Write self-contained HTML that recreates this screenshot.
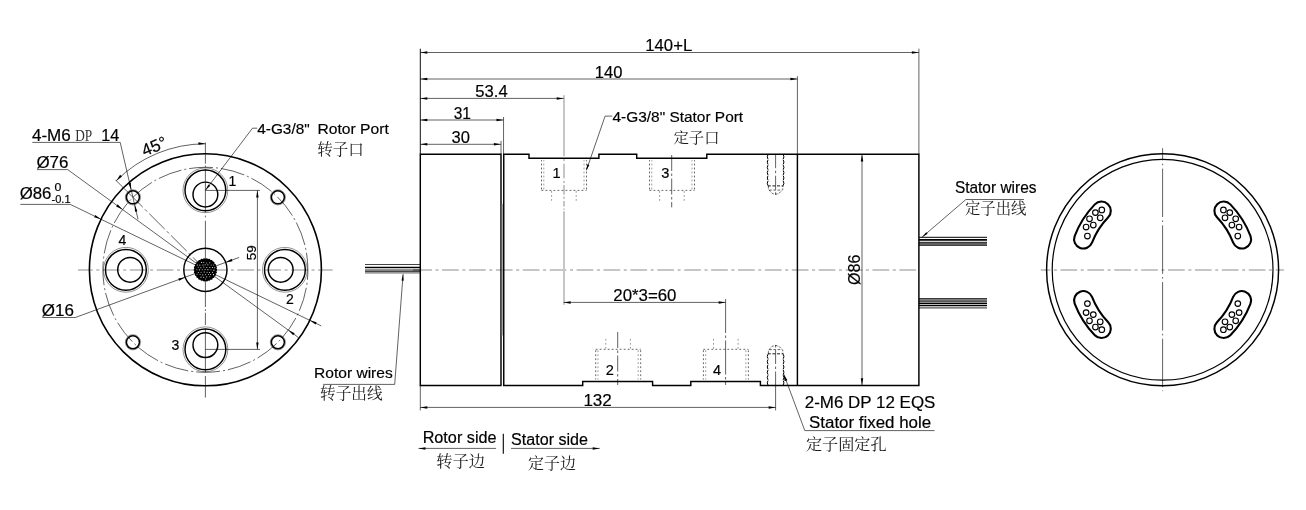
<!DOCTYPE html>
<html lang="en"><head><meta charset="utf-8"><title>Rotary union drawing</title>
<style>
html,body{margin:0;padding:0;background:#fff}
svg{display:block;will-change:transform}
.k{fill:none;stroke:#000;stroke-width:1.45}
.t{fill:none;stroke:#000;stroke-width:.62}
.g{fill:none;stroke:#000;stroke-width:.62}
.gx{fill:none;stroke:#c6c6c6;stroke-width:2}
.u{fill:none;stroke:#000;stroke-width:.62}
.th{fill:none;stroke:#000;stroke-width:.42}
.cl{fill:none;stroke:#c6c6c6;stroke-width:2;stroke-dasharray:16.7 3.6 3 3.6}
.cd{fill:none;stroke:#000;stroke-width:.62;stroke-dasharray:30 3 3 3}
.cd2{fill:none;stroke:#000;stroke-width:.62;stroke-dasharray:24 3 2 3;stroke-dashoffset:13.9}
.h{fill:none;stroke:#222;stroke-width:.7;stroke-dasharray:1.8 2.2}
.hl{fill:none;stroke:#555;stroke-width:.6;stroke-dasharray:1.8 2.2}
.hd{fill:none;stroke:#000;stroke-width:.62;stroke-dasharray:4.3 .8}
.tx{font-family:"Liberation Sans",sans-serif;fill:#000;stroke:#000;stroke-width:.18}
.cj{font-family:"Liberation Serif","Noto Serif CJK SC",serif;fill:#1a1a1a}
</style></head>
<body>
<svg width="1306" height="510" viewBox="0 0 1306 510" font-family="Liberation Sans, sans-serif">
<rect width="1306" height="510" fill="#fff"/>
<!-- left flange view -->
<line class="cl" x1="78" y1="270" x2="332.7" y2="270" style="stroke-dashoffset:2"/>
<line class="t" x1="205.4" y1="142.5" x2="205.4" y2="163.7"/>
<line class="t" x1="205.4" y1="165.6" x2="205.4" y2="167.2"/>
<line class="t" x1="205.4" y1="168.8" x2="205.4" y2="212.5"/>
<line class="t" x1="205.4" y1="215.6" x2="205.4" y2="217.4"/>
<line class="t" x1="205.4" y1="220.8" x2="205.4" y2="307"/>
<line class="t" x1="205.4" y1="309.3" x2="205.4" y2="311"/>
<line class="t" x1="205.4" y1="312.8" x2="205.4" y2="325"/>
<line class="t" x1="205.4" y1="328.7" x2="205.4" y2="372.4"/>
<line class="t" x1="205.4" y1="376" x2="205.4" y2="397.5"/>
<circle class="k" cx="205.4" cy="269.8" r="116" style="stroke-width:1.6"/>
<circle class="cd2" cx="205.4" cy="269.8" r="102.5"/>
<circle class="th" cx="205.4" cy="190.3" r="22.4"/>
<circle class="k" cx="205.4" cy="190.3" r="20.4"/>
<circle class="k" cx="205.4" cy="194.5" r="12.4"/>
<circle class="th" cx="284.9" cy="269.8" r="22.4"/>
<circle class="k" cx="284.9" cy="269.8" r="20.4"/>
<circle class="k" cx="280.7" cy="269.8" r="12.4"/>
<circle class="th" cx="205.4" cy="349.3" r="22.4"/>
<circle class="k" cx="205.4" cy="349.3" r="20.4"/>
<circle class="k" cx="205.4" cy="345.1" r="12.4"/>
<circle class="th" cx="125.9" cy="269.8" r="22.4"/>
<circle class="k" cx="125.9" cy="269.8" r="20.4"/>
<circle class="k" cx="130.1" cy="269.8" r="12.4"/>
<circle class="th" cx="277.88" cy="197.32" r="7.6"/>
<circle class="k" cx="277.88" cy="197.32" r="6.5" style="stroke-width:1.5"/>
<circle class="th" cx="132.92" cy="197.32" r="7.6"/>
<circle class="k" cx="132.92" cy="197.32" r="6.5" style="stroke-width:1.5"/>
<circle class="th" cx="132.92" cy="342.28" r="7.6"/>
<circle class="k" cx="132.92" cy="342.28" r="6.5" style="stroke-width:1.5"/>
<circle class="th" cx="277.88" cy="342.28" r="7.6"/>
<circle class="k" cx="277.88" cy="342.28" r="6.5" style="stroke-width:1.5"/>
<circle class="k" cx="205.4" cy="269.8" r="21.6"/>
<line class="u" x1="37" y1="169.6" x2="67.7" y2="169.6"/>
<line class="t" x1="67.7" y1="169.6" x2="298.55" y2="337.58"/>
<polygon fill="#000" points="122.52,209.49 116.12,206.38 117.6,204.36"/>
<polygon fill="#000" points="288.28,330.11 294.68,333.22 293.2,335.24"/>
<line class="u" x1="20.3" y1="204.4" x2="70.3" y2="204.4"/>
<line class="t" x1="70.3" y1="204.4" x2="321.24" y2="325.88"/>
<polygon fill="#000" points="100.99,219.26 94.15,217.33 95.23,215.08"/>
<polygon fill="#000" points="309.81,320.34 316.65,322.27 315.57,324.52"/>
<line class="t" x1="115.39" y1="179.79" x2="127.26" y2="191.66"/>
<line class="t" x1="127.26" y1="191.66" x2="199.74" y2="264.14" style="stroke-dasharray:22 3 3 3"/>
<line class="u" x1="42.3" y1="317.5" x2="75.3" y2="317.5"/>
<line class="t" x1="75.3" y1="317.5" x2="239.11" y2="257.44"/>
<polygon fill="#000" points="185.31,277.17 179.17,280.75 178.31,278.4"/>
<polygon fill="#000" points="225.49,262.43 231.63,258.85 232.49,261.2"/>
<circle cx="205.4" cy="269.8" r="10.9" fill="#000"/>
<circle cx="215.9" cy="269.8" r="1.25" fill="#000"/>
<circle cx="215.59" cy="272.31" r="1.25" fill="#000"/>
<circle cx="214.7" cy="274.68" r="1.25" fill="#000"/>
<circle cx="213.26" cy="276.76" r="1.25" fill="#000"/>
<circle cx="211.36" cy="278.44" r="1.25" fill="#000"/>
<circle cx="209.12" cy="279.62" r="1.25" fill="#000"/>
<circle cx="206.67" cy="280.22" r="1.25" fill="#000"/>
<circle cx="204.13" cy="280.22" r="1.25" fill="#000"/>
<circle cx="201.68" cy="279.62" r="1.25" fill="#000"/>
<circle cx="199.44" cy="278.44" r="1.25" fill="#000"/>
<circle cx="197.54" cy="276.76" r="1.25" fill="#000"/>
<circle cx="196.1" cy="274.68" r="1.25" fill="#000"/>
<circle cx="195.21" cy="272.31" r="1.25" fill="#000"/>
<circle cx="194.9" cy="269.8" r="1.25" fill="#000"/>
<circle cx="195.21" cy="267.29" r="1.25" fill="#000"/>
<circle cx="196.1" cy="264.92" r="1.25" fill="#000"/>
<circle cx="197.54" cy="262.84" r="1.25" fill="#000"/>
<circle cx="199.44" cy="261.16" r="1.25" fill="#000"/>
<circle cx="201.68" cy="259.98" r="1.25" fill="#000"/>
<circle cx="204.13" cy="259.38" r="1.25" fill="#000"/>
<circle cx="206.67" cy="259.38" r="1.25" fill="#000"/>
<circle cx="209.12" cy="259.98" r="1.25" fill="#000"/>
<circle cx="211.36" cy="261.16" r="1.25" fill="#000"/>
<circle cx="213.26" cy="262.84" r="1.25" fill="#000"/>
<circle cx="214.7" cy="264.92" r="1.25" fill="#000"/>
<circle cx="215.59" cy="267.29" r="1.25" fill="#000"/>
<circle cx="201.61" cy="262.39" r="0.55" fill="#fff" fill-opacity="0.9"/>
<circle cx="203.79" cy="262.54" r="0.55" fill="#fff" fill-opacity="0.9"/>
<circle cx="206.72" cy="262.98" r="0.55" fill="#fff" fill-opacity="0.75"/>
<circle cx="209.71" cy="262.71" r="0.55" fill="#fff" fill-opacity="0.9"/>
<circle cx="197.28" cy="265" r="0.55" fill="#fff" fill-opacity="1"/>
<circle cx="199.82" cy="265.16" r="0.55" fill="#fff" fill-opacity="0.75"/>
<circle cx="202.96" cy="264.94" r="0.55" fill="#fff" fill-opacity="1"/>
<circle cx="205.13" cy="264.73" r="0.55" fill="#fff" fill-opacity="0.9"/>
<circle cx="207.89" cy="264.86" r="0.55" fill="#fff" fill-opacity="0.9"/>
<circle cx="211.19" cy="265.03" r="0.55" fill="#fff" fill-opacity="0.75"/>
<circle cx="213.61" cy="265.07" r="0.55" fill="#fff" fill-opacity="0.75"/>
<circle cx="198.3" cy="267.23" r="0.55" fill="#fff" fill-opacity="0.75"/>
<circle cx="200.93" cy="267.65" r="0.55" fill="#fff" fill-opacity="0.75"/>
<circle cx="203.86" cy="267.07" r="0.55" fill="#fff" fill-opacity="0.9"/>
<circle cx="206.8" cy="267.5" r="0.55" fill="#fff" fill-opacity="0.9"/>
<circle cx="209.84" cy="267.55" r="0.55" fill="#fff" fill-opacity="1"/>
<circle cx="212.59" cy="267.53" r="0.55" fill="#fff" fill-opacity="1"/>
<circle cx="214.71" cy="267.7" r="0.55" fill="#fff" fill-opacity="1"/>
<circle cx="196.91" cy="269.69" r="0.55" fill="#fff" fill-opacity="0.75"/>
<circle cx="199.62" cy="269.85" r="0.55" fill="#fff" fill-opacity="1"/>
<circle cx="202.37" cy="269.7" r="0.55" fill="#fff" fill-opacity="0.75"/>
<circle cx="205.1" cy="269.6" r="0.55" fill="#fff" fill-opacity="0.9"/>
<circle cx="207.9" cy="269.63" r="0.55" fill="#fff" fill-opacity="0.9"/>
<circle cx="210.97" cy="269.78" r="0.55" fill="#fff" fill-opacity="0.75"/>
<circle cx="213.89" cy="270.15" r="0.55" fill="#fff" fill-opacity="0.9"/>
<circle cx="198.32" cy="272.5" r="0.55" fill="#fff" fill-opacity="0.9"/>
<circle cx="201.03" cy="272.21" r="0.55" fill="#fff" fill-opacity="0.75"/>
<circle cx="204.21" cy="272.04" r="0.55" fill="#fff" fill-opacity="1"/>
<circle cx="207.03" cy="272.32" r="0.55" fill="#fff" fill-opacity="0.9"/>
<circle cx="209.54" cy="272.47" r="0.55" fill="#fff" fill-opacity="0.9"/>
<circle cx="212.47" cy="272.2" r="0.55" fill="#fff" fill-opacity="1"/>
<circle cx="197.05" cy="274.23" r="0.55" fill="#fff" fill-opacity="0.75"/>
<circle cx="200.1" cy="274.54" r="0.55" fill="#fff" fill-opacity="0.75"/>
<circle cx="202.78" cy="274.88" r="0.55" fill="#fff" fill-opacity="0.9"/>
<circle cx="205.62" cy="274.72" r="0.55" fill="#fff" fill-opacity="0.9"/>
<circle cx="208.47" cy="274.47" r="0.55" fill="#fff" fill-opacity="0.75"/>
<circle cx="210.62" cy="274.54" r="0.55" fill="#fff" fill-opacity="0.9"/>
<circle cx="213.44" cy="274.65" r="0.55" fill="#fff" fill-opacity="1"/>
<circle cx="201.05" cy="277.15" r="0.55" fill="#fff" fill-opacity="0.9"/>
<circle cx="203.74" cy="277.26" r="0.55" fill="#fff" fill-opacity="1"/>
<circle cx="206.7" cy="276.88" r="0.55" fill="#fff" fill-opacity="0.75"/>
<circle cx="209.68" cy="276.71" r="0.55" fill="#fff" fill-opacity="0.75"/>
<circle cx="205.66" cy="279" r="0.55" fill="#fff" fill-opacity="0.75"/>
<line class="u" x1="32.3" y1="142.4" x2="120.2" y2="142.4"/>
<line class="t" x1="120.2" y1="142.4" x2="138.02" y2="219.34"/>
<polygon fill="#000" points="131.21,189.92 128.41,183.38 130.84,182.82"/>
<polygon fill="#000" points="134.64,204.73 137.43,211.26 135,211.83"/>
<path class="t" d="M116.3,180.7 A126.0,126.0 0 0 1 205.4,143.8"/>
<polygon fill="#000" points="205.4,143.8 198.37,144.84 198.44,142.34"/>
<polygon fill="#000" points="116.3,180.7 120.14,174.72 121.98,176.42"/>
<text class="tx" font-size="17" text-anchor="middle" transform="translate(156.45,151.64) rotate(-22.5)">45°</text>
<polyline class="t" points="257.2,128.2 252.5,128.2 205.4,190.3"/>
<polygon fill="#000" points="205.4,190.3 208.37,184.4 210.28,185.85"/>
<line class="t" x1="205.4" y1="190.4" x2="260" y2="190.4"/>
<line class="t" x1="205.4" y1="349.4" x2="260" y2="349.4"/>
<line class="t" x1="257.4" y1="190.4" x2="257.4" y2="349.4"/>
<polygon fill="#000" points="257.4,190.4 258.65,197.4 256.15,197.4"/>
<polygon fill="#000" points="257.4,349.4 256.15,342.4 258.65,342.4"/>
<text class="tx" font-size="13.5" text-anchor="middle" transform="translate(256.3,252.8) rotate(-90)">59</text>
<text class="tx" x="31.91" y="140.5" font-size="15.8" textLength="38.84" lengthAdjust="spacingAndGlyphs">4-M6</text>
<text x="75.2" y="140.5" font-size="16" textLength="17" lengthAdjust="spacingAndGlyphs" style="font-family:'Liberation Serif',serif;fill:#333">DP</text>
<text class="tx" x="101.37" y="140.5" font-size="15.8" textLength="18.01" lengthAdjust="spacingAndGlyphs">14</text>
<text class="tx" x="36.41" y="167.6" font-size="15.7" textLength="32.03" lengthAdjust="spacingAndGlyphs">Ø76</text>
<text class="tx" x="19.72" y="198.5" font-size="15.7" textLength="31.72" lengthAdjust="spacingAndGlyphs">Ø86</text>
<text class="tx" x="54.62" y="191.2" font-size="10.6" textLength="6.86" lengthAdjust="spacingAndGlyphs">0</text>
<text class="tx" x="51.51" y="202.9" font-size="10.8" textLength="19.03" lengthAdjust="spacingAndGlyphs">-0.1</text>
<text class="tx" x="41.71" y="315.7" font-size="16.3" textLength="32.14" lengthAdjust="spacingAndGlyphs">Ø16</text>
<text class="tx" x="257.25" y="133.6" font-size="14.7" textLength="52.4" lengthAdjust="spacingAndGlyphs">4-G3/8&quot;</text>
<text class="tx" x="317.52" y="133.6" font-size="14.7" textLength="71.3" lengthAdjust="spacingAndGlyphs">Rotor Port</text>
<text class="cj" x="317.3" y="154.6" font-size="15.5" textLength="46.6" lengthAdjust="spacingAndGlyphs">转子口</text>
<text class="tx" x="232.3" y="185.5" font-size="14" text-anchor="middle">1</text>
<text class="tx" x="290" y="304.2" font-size="14" text-anchor="middle">2</text>
<text class="tx" x="175.3" y="349.9" font-size="14" text-anchor="middle">3</text>
<text class="tx" x="122.3" y="244.9" font-size="14" text-anchor="middle">4</text>
<text class="tx" x="314.02" y="378.1" font-size="15.4" textLength="78.74" lengthAdjust="spacingAndGlyphs">Rotor wires</text>
<line class="u" x1="323.2" y1="384.4" x2="394.7" y2="384.4"/>
<line class="t" x1="394.7" y1="384.4" x2="403.1" y2="274.1"/>
<polygon fill="#000" points="403.1,274.1 403.7,280.66 401.51,280.5"/>
<text class="cj" x="320" y="399" font-size="15.6" textLength="62.6" lengthAdjust="spacingAndGlyphs">转子出线</text>
<!-- middle side view -->
<line class="cl" x1="415.2" y1="270" x2="918.9" y2="270"/>
<line class="gx" x1="564" y1="95.2" x2="564" y2="156.3"/>
<line class="gx" x1="564" y1="159" x2="564" y2="161"/>
<line class="gx" x1="564" y1="163.8" x2="564" y2="178.2"/>
<line class="gx" x1="564" y1="181" x2="564" y2="183"/>
<line class="gx" x1="564" y1="185.1" x2="564" y2="194.7"/>
<line class="gx" x1="564" y1="196.8" x2="564" y2="198.8"/>
<line class="gx" x1="564" y1="200.9" x2="564" y2="206.4"/>
<line class="gx" x1="564" y1="208.4" x2="564" y2="209.8"/>
<line class="gx" x1="564" y1="211.2" x2="564" y2="304.8"/>
<rect x="365" y="268.0" width="55.3" height="1.1" fill="#c8c8c8"/>
<rect x="365" y="269.0" width="55.3" height="2.0" fill="#999"/>
<rect x="413" y="269.0" width="7.3" height="2.0" fill="#6a6a6a"/>
<rect x="365" y="271.7" width="55.3" height="2.0" fill="#999"/>
<line x1="365" y1="264.5" x2="420.3" y2="264.5" stroke="#444" stroke-width="1.0"/>
<line x1="365" y1="267.4" x2="420.3" y2="267.4" stroke="#000" stroke-width="1.3"/>
<line x1="365" y1="271.3" x2="420.3" y2="271.3" stroke="#222" stroke-width="1.0"/>
<rect x="918.9" y="241.7" width="68.1" height="4.1" fill="#a2a2a2"/>
<line x1="918.9" y1="237.3" x2="987" y2="237.3" stroke="#000" stroke-width="1.0"/>
<line x1="918.9" y1="239.9" x2="987" y2="239.9" stroke="#000" stroke-width="1.6"/>
<line x1="918.9" y1="242.4" x2="987" y2="242.4" stroke="#000" stroke-width="0.7"/>
<line x1="918.9" y1="243.9" x2="987" y2="243.9" stroke="#000" stroke-width="0.7"/>
<line x1="918.9" y1="245.3" x2="987" y2="245.3" stroke="#000" stroke-width="0.8"/>
<rect x="918.9" y="298.0" width="68.1" height="4.4" fill="#a2a2a2"/>
<line x1="918.9" y1="298.5" x2="987" y2="298.5" stroke="#222" stroke-width="0.8"/>
<line x1="918.9" y1="300.1" x2="987" y2="300.1" stroke="#222" stroke-width="0.7"/>
<line x1="918.9" y1="301.7" x2="987" y2="301.7" stroke="#222" stroke-width="0.7"/>
<line x1="918.9" y1="303.3" x2="987" y2="303.3" stroke="#000" stroke-width="1.3"/>
<line x1="918.9" y1="305.5" x2="987" y2="305.5" stroke="#000" stroke-width="1.6"/>
<line x1="918.9" y1="307.9" x2="987" y2="307.9" stroke="#555" stroke-width="1.2"/>
<path class="k" d="M420.3,154.2 H501.0 V385.5 H420.3 Z"/>
<line class="k" x1="502.1" y1="203.7" x2="502.1" y2="335.4" style="stroke-width:1.1;stroke:#7a7a7a"/>
<path class="k" d="M503.75,385.5 V154.2 H529 V158.2 H598.9 V154.2 H636.7 V158.2 H706.8 V154.2 H918.9 V385.5 H760.4 V381.5 H690.8 V385.5 H652.6 V381.5 H582.7 V385.5 Z"/>
<line class="k" x1="797.4" y1="154.2" x2="797.4" y2="385.5"/>
<line class="h" x1="541.5" y1="189.4" x2="541.5" y2="160.2"/>
<line class="hl" x1="543.8" y1="189.4" x2="543.8" y2="160.2"/>
<line class="hl" x1="584" y1="189.4" x2="584" y2="160.2"/>
<line class="h" x1="586.5" y1="189.4" x2="586.5" y2="160.2"/>
<line class="h" x1="541.5" y1="190.4" x2="586.5" y2="190.4"/>
<line class="hl" x1="551.6" y1="191" x2="551.6" y2="201.2"/>
<line class="hl" x1="576.2" y1="191" x2="576.2" y2="201.2"/>
<line class="h" x1="649.5" y1="189.4" x2="649.5" y2="160.2"/>
<line class="hl" x1="651.8" y1="189.4" x2="651.8" y2="160.2"/>
<line class="hl" x1="692" y1="189.4" x2="692" y2="160.2"/>
<line class="h" x1="694.5" y1="189.4" x2="694.5" y2="160.2"/>
<line class="h" x1="649.5" y1="190.4" x2="694.5" y2="190.4"/>
<line class="hl" x1="659.6" y1="191" x2="659.6" y2="201.2"/>
<line class="hl" x1="684.2" y1="191" x2="684.2" y2="201.2"/>
<line class="h" x1="595.7" y1="350.3" x2="595.7" y2="379.5"/>
<line class="hl" x1="598" y1="350.3" x2="598" y2="379.5"/>
<line class="hl" x1="638.2" y1="350.3" x2="638.2" y2="379.5"/>
<line class="h" x1="640.7" y1="350.3" x2="640.7" y2="379.5"/>
<line class="h" x1="595.7" y1="349.3" x2="640.7" y2="349.3"/>
<line class="hl" x1="605.8" y1="348.7" x2="605.8" y2="338.5"/>
<line class="hl" x1="630.4" y1="348.7" x2="630.4" y2="338.5"/>
<line class="h" x1="703.4" y1="350.3" x2="703.4" y2="379.5"/>
<line class="hl" x1="705.7" y1="350.3" x2="705.7" y2="379.5"/>
<line class="hl" x1="745.9" y1="350.3" x2="745.9" y2="379.5"/>
<line class="h" x1="748.4" y1="350.3" x2="748.4" y2="379.5"/>
<line class="h" x1="703.4" y1="349.3" x2="748.4" y2="349.3"/>
<line class="hl" x1="713.5" y1="348.7" x2="713.5" y2="338.5"/>
<line class="hl" x1="738.1" y1="348.7" x2="738.1" y2="338.5"/>
<line class="t" x1="671.7" y1="155" x2="671.7" y2="207.4" style="stroke-dasharray:16 2.5 2.5 2.5"/>
<line class="t" x1="617.7" y1="332" x2="617.7" y2="385" style="stroke-dasharray:16 2.5 2.5 2.5"/>
<line class="t" x1="725.6" y1="299" x2="725.6" y2="385" style="stroke-dasharray:34 2.5 2.5 2.5"/>
<path class="t" d="M768,154.55 Q766.5,156.84 768,159.13 M768,159.83 Q766.5,162.12 768,164.42 M768,165.12 Q766.5,167.41 768,169.7 M768,170.4 Q766.5,172.69 768,174.98 M768,175.68 Q766.5,177.97 768,180.27 M768,180.97 Q766.5,183.26 768,185.55" style="stroke-width:1"/>
<path class="t" d="M783.2,154.55 Q784.7,156.84 783.2,159.13 M783.2,159.83 Q784.7,162.12 783.2,164.42 M783.2,165.12 Q784.7,167.41 783.2,169.7 M783.2,170.4 Q784.7,172.69 783.2,174.98 M783.2,175.68 Q784.7,177.97 783.2,180.27 M783.2,180.97 Q784.7,183.26 783.2,185.55" style="stroke-width:1"/>
<line class="t" x1="767.8" y1="185.9" x2="783.4" y2="185.9" style="stroke-width:.9;stroke-dasharray:3 1.6"/>
<polyline class="t" points="768.4,185.9 768.4,189.5 772.4,193.5 775.6,194.3 778.8,193.5 782.8,189.5 782.8,185.9" style="stroke-dasharray:2.6 1.4"/>
<line class="t" x1="769.2" y1="190.1" x2="782" y2="190.1" style="stroke-dasharray:2.6 1.6"/>
<line class="t" x1="775.6" y1="154.2" x2="775.6" y2="195.2" style="stroke-dasharray:14 2.5 2.5 2.5"/>
<path class="t" d="M768,385.15 Q766.5,382.86 768,380.57 M768,379.87 Q766.5,377.58 768,375.28 M768,374.58 Q766.5,372.29 768,370 M768,369.3 Q766.5,367.01 768,364.72 M768,364.02 Q766.5,361.73 768,359.43 M768,358.73 Q766.5,356.44 768,354.15" style="stroke-width:1"/>
<path class="t" d="M783.2,385.15 Q784.7,382.86 783.2,380.57 M783.2,379.87 Q784.7,377.58 783.2,375.28 M783.2,374.58 Q784.7,372.29 783.2,370 M783.2,369.3 Q784.7,367.01 783.2,364.72 M783.2,364.02 Q784.7,361.73 783.2,359.43 M783.2,358.73 Q784.7,356.44 783.2,354.15" style="stroke-width:1"/>
<line class="t" x1="767.8" y1="353.8" x2="783.4" y2="353.8" style="stroke-width:.9;stroke-dasharray:3 1.6"/>
<polyline class="t" points="768.4,353.8 768.4,350.2 772.4,346.2 775.6,345.4 778.8,346.2 782.8,350.2 782.8,353.8" style="stroke-dasharray:2.6 1.4"/>
<line class="t" x1="769.2" y1="349.6" x2="782" y2="349.6" style="stroke-dasharray:2.6 1.6"/>
<line class="t" x1="775.6" y1="385.5" x2="775.6" y2="344.5" style="stroke-dasharray:14 2.5 2.5 2.5"/>
<line class="t" x1="420.3" y1="48.7" x2="420.3" y2="154.2" style="stroke-width:.95"/>
<line class="t" x1="420.3" y1="52.5" x2="918.9" y2="52.5"/>
<polygon fill="#000" points="420.3,52.5 427.3,51.25 427.3,53.75"/>
<polygon fill="#000" points="918.9,52.5 911.9,53.75 911.9,51.25"/>
<line class="t" x1="918.9" y1="48.7" x2="918.9" y2="154.2"/>
<line class="t" x1="420.3" y1="79" x2="797.4" y2="79"/>
<polygon fill="#000" points="420.3,79 427.3,77.75 427.3,80.25"/>
<polygon fill="#000" points="797.4,79 790.4,80.25 790.4,77.75"/>
<line class="t" x1="797.4" y1="76.2" x2="797.4" y2="154.2"/>
<line class="t" x1="420.3" y1="98.4" x2="563.7" y2="98.4"/>
<polygon fill="#000" points="420.3,98.4 427.3,97.15 427.3,99.65"/>
<polygon fill="#000" points="563.7,98.4 556.7,99.65 556.7,97.15"/>
<line class="t" x1="420.3" y1="120" x2="503.5" y2="120"/>
<polygon fill="#000" points="420.3,120 427.3,118.75 427.3,121.25"/>
<polygon fill="#000" points="503.5,120 496.5,121.25 496.5,118.75"/>
<line class="t" x1="503.55" y1="117" x2="503.55" y2="154.2"/>
<line class="t" x1="420.3" y1="144.3" x2="500.9" y2="144.3"/>
<polygon fill="#000" points="420.3,144.3 427.3,143.05 427.3,145.55"/>
<polygon fill="#000" points="500.9,144.3 493.9,145.55 493.9,143.05"/>
<line class="t" x1="501" y1="140.9" x2="501" y2="154.2"/>
<line class="t" x1="563.7" y1="302.4" x2="725.6" y2="302.4"/>
<polygon fill="#000" points="563.7,302.4 570.7,301.15 570.7,303.65"/>
<polygon fill="#000" points="725.6,302.4 718.6,303.65 718.6,301.15"/>
<line class="t" x1="420.3" y1="385.5" x2="420.3" y2="410.4"/>
<line class="t" x1="775.6" y1="385.5" x2="775.6" y2="410.4"/>
<line class="t" x1="420.3" y1="407.4" x2="775.6" y2="407.4"/>
<polygon fill="#000" points="420.3,407.4 427.3,406.15 427.3,408.65"/>
<polygon fill="#000" points="775.6,407.4 768.6,408.65 768.6,406.15"/>
<line class="g" x1="862" y1="154.2" x2="862" y2="385.5"/>
<polygon fill="#000" points="862,154.5 863.25,161.5 860.75,161.5"/>
<polygon fill="#000" points="862,385.2 860.75,378.2 863.25,378.2"/>
<text class="tx" font-size="16" text-anchor="middle" transform="translate(860.2,269.8) rotate(-90)">Ø86</text>
<text class="tx" x="645.33" y="50.7" font-size="16" textLength="46.82" lengthAdjust="spacingAndGlyphs">140+L</text>
<text class="tx" x="594.74" y="77.6" font-size="16" textLength="27.61" lengthAdjust="spacingAndGlyphs">140</text>
<text class="tx" x="475.33" y="97.3" font-size="16.1" textLength="32.35" lengthAdjust="spacingAndGlyphs">53.4</text>
<text class="tx" x="453.71" y="118.6" font-size="16.1" textLength="17.25" lengthAdjust="spacingAndGlyphs">31</text>
<text class="tx" x="451.47" y="142.8" font-size="16" textLength="18.37" lengthAdjust="spacingAndGlyphs">30</text>
<text class="tx" x="613.35" y="300.8" font-size="16" textLength="63.1" lengthAdjust="spacingAndGlyphs">20*3=60</text>
<text class="tx" x="583.4" y="405.5" font-size="16" textLength="28.46" lengthAdjust="spacingAndGlyphs">132</text>
<text class="tx" x="612.55" y="122.3" font-size="15" textLength="130.57" lengthAdjust="spacingAndGlyphs">4-G3/8&quot; Stator Port</text>
<polyline class="t" points="612.3,116.1 605.1,116.1 586.4,170.3"/>
<polygon fill="#000" points="586.4,170.3 587.32,164.27 589.4,164.99"/>
<text class="cj" x="673.6" y="142.7" font-size="15.25" textLength="45.8" lengthAdjust="spacingAndGlyphs">定子口</text>
<text class="tx" x="556.6" y="178" font-size="14.6" text-anchor="middle">1</text>
<text class="tx" x="665.4" y="178" font-size="14.6" text-anchor="middle">3</text>
<text class="tx" x="609.7" y="374.9" font-size="14.6" text-anchor="middle">2</text>
<text class="tx" x="717" y="374.9" font-size="14.6" text-anchor="middle">4</text>
<text class="tx" x="954.9" y="192.9" font-size="15.7" textLength="81.56" lengthAdjust="spacingAndGlyphs">Stator wires</text>
<polyline class="t" points="1024,199.5 965.9,199.5 922,237.2"/>
<polygon fill="#000" points="922,237.2 926.21,232.13 927.65,233.8"/>
<text class="cj" x="965" y="213.8" font-size="15.4" textLength="61.5" lengthAdjust="spacingAndGlyphs">定子出线</text>
<text class="tx" x="804.75" y="408.3" font-size="16.5" textLength="130.63" lengthAdjust="spacingAndGlyphs">2-M6 DP 12 EQS</text>
<text class="tx" x="809.03" y="427.9" font-size="16" textLength="122.12" lengthAdjust="spacingAndGlyphs">Stator fixed hole</text>
<line class="u" x1="804.8" y1="430.6" x2="934.6" y2="430.6"/>
<line class="t" x1="804.8" y1="430.6" x2="783.6" y2="373.7"/>
<polygon fill="#000" points="783.6,374.2 787.45,380.24 784.64,381.28"/>
<text class="cj" x="806" y="449.8" font-size="16.1" textLength="80.6" lengthAdjust="spacingAndGlyphs">定子固定孔</text>
<text class="tx" x="422.67" y="442.6" font-size="16" textLength="73.85" lengthAdjust="spacingAndGlyphs">Rotor side</text>
<text class="tx" x="511.07" y="444.5" font-size="16" textLength="76.95" lengthAdjust="spacingAndGlyphs">Stator side</text>
<line class="t" x1="418.5" y1="448.4" x2="496" y2="448.4"/>
<polygon fill="#000" points="418.5,448.4 425.5,447.15 425.5,449.65"/>
<line class="t" x1="511" y1="448.4" x2="599.7" y2="448.4"/>
<polygon fill="#000" points="599.7,448.4 592.7,449.65 592.7,447.15"/>
<line class="k" x1="503.3" y1="433.8" x2="503.3" y2="453.8" style="stroke-width:1.1"/>
<text class="cj" x="436.2" y="467.4" font-size="16.25" textLength="48.8" lengthAdjust="spacingAndGlyphs">转子边</text>
<text class="cj" x="528.1" y="469.2" font-size="16" textLength="47.9" lengthAdjust="spacingAndGlyphs">定子边</text>
<!-- right end view -->
<line class="cl" x1="1040.75" y1="270" x2="1283.9" y2="270" style="stroke-dashoffset:7.2"/>
<line class="t" x1="1162.6" y1="148.2" x2="1162.6" y2="391.2" style="stroke-dasharray:48.5 3.3 1.6 3.3;stroke-dashoffset:36.3"/>
<circle class="k" cx="1162.6" cy="269.8" r="116"/>
<circle class="k" cx="1162.6" cy="269.8" r="110.4" style="stroke-width:1.2"/>
<path class="k" d="M1074.66,236.04 A94.2,94.2 0 0 1 1094.84,204.36 A9.3,9.3 0 0 1 1108.22,217.28 A75.60000000000001,75.60000000000001 0 0 0 1092.02,242.71 A9.3,9.3 0 0 1 1074.66,236.04 Z" style="stroke-width:2.1"/>
<circle class="k" cx="1101.8" cy="209.9" r="2.8" style="stroke-width:1.15"/>
<circle class="k" cx="1095.4" cy="212.6" r="2.8" style="stroke-width:1.15"/>
<circle class="k" cx="1100.2" cy="217.8" r="2.8" style="stroke-width:1.15"/>
<circle class="k" cx="1089.5" cy="218.8" r="2.8" style="stroke-width:1.15"/>
<circle class="k" cx="1093.3" cy="225" r="2.8" style="stroke-width:1.15"/>
<circle class="k" cx="1086.1" cy="227" r="2.8" style="stroke-width:1.15"/>
<circle class="k" cx="1087.4" cy="236" r="2.8" style="stroke-width:1.15"/>
<path class="k" d="M1250.54,236.04 A94.2,94.2 0 0 0 1230.36,204.36 A9.3,9.3 0 0 0 1216.98,217.28 A75.60000000000001,75.60000000000001 0 0 1 1233.18,242.71 A9.3,9.3 0 0 0 1250.54,236.04 Z" style="stroke-width:2.1"/>
<circle class="k" cx="1223.4" cy="209.9" r="2.8" style="stroke-width:1.15"/>
<circle class="k" cx="1229.8" cy="212.6" r="2.8" style="stroke-width:1.15"/>
<circle class="k" cx="1225" cy="217.8" r="2.8" style="stroke-width:1.15"/>
<circle class="k" cx="1235.7" cy="218.8" r="2.8" style="stroke-width:1.15"/>
<circle class="k" cx="1231.9" cy="225" r="2.8" style="stroke-width:1.15"/>
<circle class="k" cx="1239.1" cy="227" r="2.8" style="stroke-width:1.15"/>
<circle class="k" cx="1237.8" cy="236" r="2.8" style="stroke-width:1.15"/>
<path class="k" d="M1074.66,303.56 A94.2,94.2 0 0 0 1094.84,335.24 A9.3,9.3 0 0 0 1108.22,322.32 A75.60000000000001,75.60000000000001 0 0 1 1092.02,296.89 A9.3,9.3 0 0 0 1074.66,303.56 Z" style="stroke-width:2.1"/>
<circle class="k" cx="1101.8" cy="329.7" r="2.8" style="stroke-width:1.15"/>
<circle class="k" cx="1095.4" cy="327" r="2.8" style="stroke-width:1.15"/>
<circle class="k" cx="1100.2" cy="321.8" r="2.8" style="stroke-width:1.15"/>
<circle class="k" cx="1089.5" cy="320.8" r="2.8" style="stroke-width:1.15"/>
<circle class="k" cx="1093.3" cy="314.6" r="2.8" style="stroke-width:1.15"/>
<circle class="k" cx="1086.1" cy="312.6" r="2.8" style="stroke-width:1.15"/>
<circle class="k" cx="1087.4" cy="303.6" r="2.8" style="stroke-width:1.15"/>
<path class="k" d="M1250.54,303.56 A94.2,94.2 0 0 1 1230.36,335.24 A9.3,9.3 0 0 1 1216.98,322.32 A75.60000000000001,75.60000000000001 0 0 0 1233.18,296.89 A9.3,9.3 0 0 1 1250.54,303.56 Z" style="stroke-width:2.1"/>
<circle class="k" cx="1223.4" cy="329.7" r="2.8" style="stroke-width:1.15"/>
<circle class="k" cx="1229.8" cy="327" r="2.8" style="stroke-width:1.15"/>
<circle class="k" cx="1225" cy="321.8" r="2.8" style="stroke-width:1.15"/>
<circle class="k" cx="1235.7" cy="320.8" r="2.8" style="stroke-width:1.15"/>
<circle class="k" cx="1231.9" cy="314.6" r="2.8" style="stroke-width:1.15"/>
<circle class="k" cx="1239.1" cy="312.6" r="2.8" style="stroke-width:1.15"/>
<circle class="k" cx="1237.8" cy="303.6" r="2.8" style="stroke-width:1.15"/>
</svg>
</body></html>
